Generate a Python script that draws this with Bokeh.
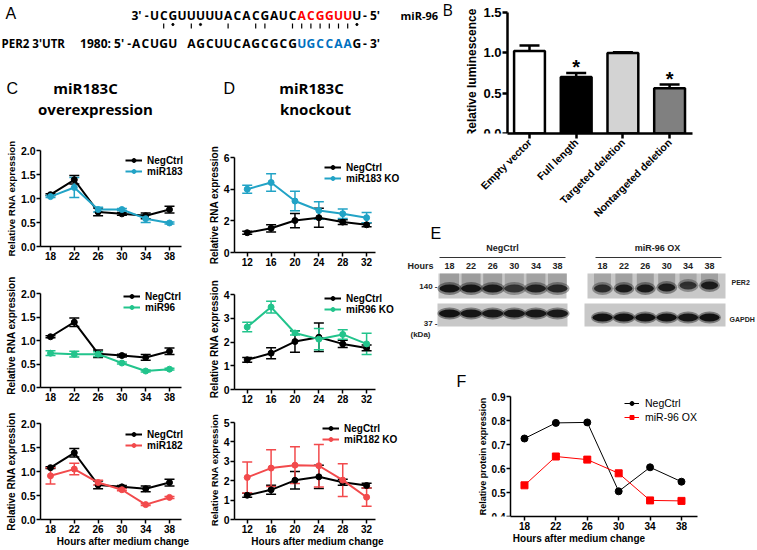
import math
from bokeh.plotting import figure
from bokeh.layouts import row, column
from bokeh.models import (Range1d, FixedTicker, NumeralTickFormatter,
                          Legend, LegendItem, Whisker, TeeHead, ColumnDataSource)
from bokeh.core.properties import value
from bokeh.embed import file_html
from bokeh.resources import INLINE

FONT = "Liberation Sans"
TFONT = "Open Sans"

# ---------------- data ----------------
# Panel A: miR-96 (3'->5') paired with PER2 3'UTR site
mirna_seq = "UCGUUUUUACACGAUCACGGUUU"
target_left = "ACUGU"
target_right = "AGCUUCAGCGCGUGCCAAG"
seed_cols = [16, 17, 18, 19, 20, 21]
pair_bar_cols = [1, 4, 8, 11, 12, 15, 16, 17, 18, 19, 20, 21]
pair_dot_cols = [2, 5, 22]

# Panel B
b_categories = ["Empty vector", "Full length", "Targeted deletion", "Nontargeted deletion"]
b_values = [1.02, 0.70, 0.995, 0.56]
b_errors = [0.07, 0.05, 0.012, 0.045]
b_colors = ["#ffffff", "#000000", "#d3d3d3", "#808080"]
b_stars = ["", "*", "", "*"]

# Panel C (overexpression)
hours_oe = [18, 22, 26, 30, 34, 38]
negctrl_oe = [1.08, 1.39, 0.72, 0.68, 0.64, 0.77]
negctrl_oe_err = [0.02, 0.09, 0.08, 0.03, 0.06, 0.07]
mir183_oe = [1.04, 1.23, 0.77, 0.77, 0.58, 0.49]
mir183_oe_err = [0.02, 0.21, 0.05, 0.02, 0.08, 0.02]
mir96_oe = [0.73, 0.71, 0.71, 0.52, 0.35, 0.39]
mir96_oe_err = [0.05, 0.06, 0.05, 0.02, 0.02, 0.02]
mir182_oe = [0.91, 1.05, 0.77, 0.62, 0.31, 0.46]
mir182_oe_err = [0.17, 0.12, 0.05, 0.02, 0.02, 0.02]

# Panel D (knockout)
hours_ko = [12, 16, 20, 24, 28, 32]
negctrl_ko = [1.25, 1.53, 2.02, 2.2, 1.92, 1.75]
negctrl_ko_err = [0.1, 0.23, 0.45, 0.6, 0.15, 0.12]
mir183_ko = [4.0, 4.42, 3.25, 2.65, 2.45, 2.2]
mir183_ko_err = [0.25, 0.55, 0.62, 0.55, 0.3, 0.32]
mir96_ko = [2.63, 3.47, 2.38, 2.12, 2.32, 1.92]
mir96_ko_err = [0.2, 0.25, 0.08, 0.45, 0.2, 0.45]
mir182_ko = [2.17, 2.65, 2.8, 2.77, 2.03, 1.15]
mir182_ko_err = [0.8, 0.95, 0.95, 1.1, 0.85, 0.47]

# Panel E (western blot band intensities, 0-1)
blot_hours = [18, 22, 26, 30, 34, 38]
per2_negctrl = [0.95, 0.95, 0.92, 0.72, 0.85, 0.82]
per2_mir96 = [0.78, 0.9, 0.92, 0.9, 0.72, 0.9]
per2_mir96_shift = [0, 0, 0, 1, 3, 3]
gapdh_negctrl = [0.95, 0.92, 0.9, 0.9, 0.9, 0.9]
gapdh_mir96 = [0.95, 0.95, 0.95, 0.95, 0.92, 0.95]

# Panel F
f_negctrl = [0.725, 0.79, 0.792, 0.505, 0.605, 0.545]
f_mir96 = [0.53, 0.65, 0.637, 0.58, 0.467, 0.465]

TEAL = "#22a3c6"
GREEN = "#22c48c"
RED = "#f24a4c"


# ---------------- helpers ----------------
def blank(w, h, xr, yr):
    p = figure(width=w, height=h, x_range=Range1d(*xr), y_range=Range1d(*yr),
               output_backend="svg", toolbar_location=None,
               x_axis_location=None, y_axis_location=None, min_border=0)
    p.grid.visible = False
    p.outline_line_color = None
    return p


def style_axes(p, tick_size="10px", ytick_size="10.5px", lw=1.5, tick_out=4,
               label_size="10px"):
    for ax in p.axis:
        ax.axis_line_width = lw
        ax.axis_line_color = "black"
        ax.major_tick_line_width = lw
        ax.major_tick_line_color = "black"
        ax.major_tick_out = tick_out
        ax.major_tick_in = 0
        ax.minor_tick_line_color = None
        ax.major_label_text_font = FONT
        ax.major_label_text_font_style = "bold"
        ax.major_label_text_color = "black"
        ax.major_label_standoff = 1
        ax.axis_label_text_font = FONT
        ax.axis_label_text_font_style = "bold"
        ax.axis_label_text_font_size = label_size
        ax.axis_label_text_color = "black"
        ax.axis_label_standoff = 1
    p.xaxis.major_label_text_font_size = tick_size
    p.yaxis.major_label_text_font_size = ytick_size
    p.grid.visible = False
    p.outline_line_color = None


def make_panel(w, h, bl, bt, bb, x0, xend, xpx, ytop, ypx, xticks, yticks, yfmt,
               ylabel="Relative RNA expression", xlabel=None, ylabel_size="10px"):
    # frame spans from border-left to the figure's right edge; axis lines limited by bounds
    frame_w = w - bl
    frame_h = h - bt - bb
    x1 = x0 + frame_w / xpx
    y1 = frame_h / ypx
    p = figure(width=w, height=h, x_range=Range1d(x0, x1), y_range=Range1d(0, y1),
               output_backend="svg", toolbar_location=None,
               min_border_left=bl, min_border_right=0, min_border_top=bt, min_border_bottom=bb)
    p.xaxis.ticker = FixedTicker(ticks=xticks)
    p.yaxis.ticker = FixedTicker(ticks=yticks)
    p.yaxis.formatter = NumeralTickFormatter(format=yfmt)
    p.xaxis.bounds = (x0, xend)
    p.yaxis.bounds = (0, ytop)
    p.yaxis.axis_label = ylabel
    if xlabel:
        p.xaxis.axis_label = xlabel
    style_axes(p)
    p.yaxis.axis_label_text_font_size = ylabel_size
    if xlabel:
        p.xaxis.axis_label_standoff = 0
    return p


def add_series(p, xs, ys, errs, color, lw=2, size=6, cap=10):
    src = ColumnDataSource(dict(x=xs, y=ys,
                                lo=[y - e for y, e in zip(ys, errs)],
                                hi=[y + e for y, e in zip(ys, errs)]))
    p.add_layout(Whisker(source=src, base="x", lower="lo", upper="hi",
                         line_color=color, line_width=1.5,
                         upper_head=TeeHead(size=cap, line_color=color, line_width=1.5),
                         lower_head=TeeHead(size=cap, line_color=color, line_width=1.5)))
    r1 = p.line("x", "y", source=src, line_color=color, line_width=lw)
    r2 = p.scatter("x", "y", source=src, marker="circle", size=size,
                   fill_color=color, line_color=color)
    return [r1, r2]


RH = 13  # approx. legend row height for ~10px text


def add_legend(p, entries, fl, fb, gx, first_center, pitch, size="10px", bold=True,
               glyph_w=17, standoff=5):
    items = [LegendItem(label=lab, renderers=rs) for lab, rs in entries]
    n = len(items)
    spacing = int(round(pitch - RH))
    H = n * RH + (n - 1) * spacing
    top = first_center - RH / 2
    leg = Legend(items=items, location=(gx - fl, fb - (top + H)), orientation="vertical",
                 padding=0, margin=0, spacing=spacing, glyph_width=glyph_w, glyph_height=10,
                 label_height=10, label_standoff=standoff, border_line_color=None,
                 background_fill_alpha=0, label_text_font=FONT,
                 label_text_font_style="bold" if bold else "normal",
                 label_text_font_size=size, label_text_color="black")
    p.add_layout(leg, "center")


# ---------------- Panel A + C/D titles (page 0..400 x 0..140) ----------------
pA = blank(400, 140, (0, 400), (140, 0))


def colx(c):
    return 154 + 9.2 * c


n1 = len(mirna_seq)
pA.text(x=[colx(i) for i in range(n1)], y=[15] * n1, text=list(mirna_seq),
        text_color=["#ff0000" if i in seed_cols else "black" for i in range(n1)],
        text_font=value(TFONT), text_font_style="bold", text_font_size="12px",
        text_align="center", text_baseline="middle")
tcols = [c - 2 for c in range(len(target_left))] + [c + 4 for c in range(len(target_right))]
tletters = list(target_left) + list(target_right)
pA.text(x=[colx(c) for c in tcols], y=[43] * len(tcols), text=tletters,
        text_color=["#0070c0" if c in seed_cols else "black" for c in tcols],
        text_font=value(TFONT), text_font_style="bold", text_font_size="12px",
        text_align="center", text_baseline="middle")
pA.segment(x0=[colx(c) for c in pair_bar_cols], y0=[23] * len(pair_bar_cols),
           x1=[colx(c) for c in pair_bar_cols], y1=[28] * len(pair_bar_cols),
           line_color="black", line_width=1.2)
pA.scatter(x=[colx(c) for c in pair_dot_cols], y=[24] * len(pair_dot_cols),
           marker="circle", size=2.2, color="black")
pA.text(x=[colx(0) - 6, colx(n1 - 1) + 6, colx(-2) - 5, colx(22) + 6],
        y=[15, 15, 43, 43],
        text=["3' -", "- 5'", "1980: 5' -", "- 3'"],
        text_align=["right", "left", "right", "left"],
        text_font=value(TFONT), text_font_style="bold", text_font_size="12px",
        text_baseline="middle", text_color="black")
pA.text(x=[1], y=[43], text=["PER2 3'UTR"], text_font=value(TFONT), text_font_style="bold",
        text_font_size="11.5px", text_baseline="middle", text_align="left")
pA.text(x=[5, 6, 223], y=[13, 88, 88], text=["A", "C", "D"], text_font=value(FONT),
        text_font_size="16px", text_baseline="middle", text_align="left")
pA.text(x=[85, 95, 311, 315], y=[87, 108, 87, 108],
        text=["miR183C", "overexpression", "miR183C", "knockout"],
        text_font=value(TFONT), text_font_style="bold", text_font_size="15px",
        text_baseline="middle", text_align="center")

# ---------------- Panel B (page 400..757 x 0..226), frame covers whole width ----------------
B_C0, B_PX = 529.0, 46.7          # page x of first bar centre, px per category step
B_Y0, B_YPX = 135.0, 82.0         # page y of value 0, px per unit
b_idx = list(range(len(b_categories)))


def bx(px):
    return (px - B_C0) / B_PX


def by(py):
    return (B_Y0 - py) / B_YPX


pB = figure(width=357, height=226, x_range=Range1d(bx(400), bx(757)),
            y_range=Range1d(0, by(0)), output_backend="svg", toolbar_location=None,
            min_border_left=0, min_border_right=0, min_border_top=0, min_border_bottom=91)
pB.vbar(x=b_idx, top=b_values, width=0.66, fill_color=b_colors,
        line_color="black", line_width=2.5)
b_src = ColumnDataSource(dict(x=b_idx, lo=b_values,
                              hi=[v + e for v, e in zip(b_values, b_errors)]))
pB.add_layout(Whisker(source=b_src, base="x", lower="lo", upper="hi", line_color="black",
                      line_width=2.5, lower_head=None,
                      upper_head=TeeHead(size=20, line_color="black", line_width=2.5)))
pB.text(x=b_idx, y=[v + e + 0.07 for v, e in zip(b_values, b_errors)], text=b_stars,
        text_font=value(FONT), text_font_style="bold", text_font_size="20px",
        text_align="center", text_baseline="middle")
pB.xaxis.ticker = FixedTicker(ticks=b_idx)
pB.xaxis.major_label_overrides = {i: c for i, c in zip(b_idx, b_categories)}
pB.xaxis.bounds = (bx(507), bx(692))
pB.yaxis.ticker = FixedTicker(ticks=[0, 0.5, 1.0, 1.5])
pB.yaxis.formatter = NumeralTickFormatter(format="0.0")
pB.yaxis.bounds = (0, 1.5)
pB.yaxis.fixed_location = bx(507)
pB.yaxis.axis_label = "Relative luminescence"
style_axes(pB, tick_size="10.5px", ytick_size="13px", lw=2.5, tick_out=5, label_size="12px")
pB.xaxis.major_label_orientation = math.pi / 4
pB.xaxis.major_label_standoff = 2
pB.text(x=[bx(400), bx(442)], y=[by(15), by(10)], text=["miR-96", "B"],
        text_font=value(TFONT), text_font_style=["bold", "normal"],
        text_font_size=["11px", "16px"], text_baseline="middle", text_align="left")

# ---------------- Panel C (page 0..205) ----------------
C1 = make_panel(205, 130, 40, 10, 24, 16.32, 40.02, 5.95, 2, 48, hours_oe,
                [0, 0.5, 1, 1.5, 2], "0.0", ylabel_size="9.8px")
rn = add_series(C1, hours_oe, negctrl_oe, negctrl_oe_err, "black")
rm = add_series(C1, hours_oe, mir183_oe, mir183_oe_err, TEAL)
add_legend(C1, [("NegCtrl", rn), ("miR183", rm)], 40, 246, 125, 160, 10)

C2 = make_panel(205, 140, 40, 13, 23, 16.32, 40.02, 5.95, 2, 47, hours_oe,
                [0, 0.5, 1, 1.5, 2], "0.0")
rn = add_series(C2, hours_oe, negctrl_oe, negctrl_oe_err, "black")
rm = add_series(C2, hours_oe, mir96_oe, mir96_oe_err, GREEN)
add_legend(C2, [("NegCtrl", rn), ("miR96", rm)], 40, 387, 123, 295, 11)

C3 = make_panel(205, 140, 40, 13, 31, 16.32, 40.02, 5.95, 2, 48, hours_oe,
                [0, 0.5, 1, 1.5, 2], "0.0", xlabel="Hours after medium change")
rn = add_series(C3, hours_oe, negctrl_oe, negctrl_oe_err, "black")
rm = add_series(C3, hours_oe, mir182_oe, mir182_oe_err, RED)
add_legend(C3, [("NegCtrl", rn), ("miR182", rm)], 40, 519, 125, 433, 11)

# ---------------- Panel D (page 205..400) ----------------
D1 = make_panel(195, 130, 29, 17, 18, 9.87, 33.5, 5.97, 6, 15.83, hours_ko,
                [0, 2, 4, 6], "0")
rn = add_series(D1, hours_ko, negctrl_ko, negctrl_ko_err, "black")
rm = add_series(D1, hours_ko, mir183_ko, mir183_ko_err, TEAL)
add_legend(D1, [("NegCtrl", rn), ("miR183 KO", rm)], 234, 252, 324, 167, 10)

D2 = make_panel(195, 140, 29, 18, 21, 9.87, 33.5, 5.97, 4, 23.75, hours_ko,
                [0, 1, 2, 3, 4], "0")
rn = add_series(D2, hours_ko, negctrl_ko, negctrl_ko_err, "black")
rm = add_series(D2, hours_ko, mir96_ko, mir96_ko_err, GREEN)
add_legend(D2, [("NegCtrl", rn), ("miR96 KO", rm)], 234, 389, 324, 298, 10)

D3 = make_panel(195, 140, 29, 10, 31, 9.87, 33.5, 5.97, 5, 19.4, hours_ko,
                [0, 1, 2, 3, 4, 5], "0", xlabel="Hours after medium change",
                ylabel_size="9.5px")
rn = add_series(D3, hours_ko, negctrl_ko, negctrl_ko_err, "black")
rm = add_series(D3, hours_ko, mir182_ko, mir182_ko_err, RED)
add_legend(D3, [("NegCtrl", rn), ("miR182 KO", rm)], 234, 519, 322, 427, 11)

# ---------------- Panel E (blot), page 400..757 x 226..391 ----------------
pE = blank(357, 165, (400, 757), (391, 226))
lanes = list(range(len(blot_hours)))
neg_x = [449 + 21.6 * i for i in lanes]
ox_x = [602 + 21.4 * i for i in lanes]
pE.quad(left=[neg_x[0] - 11, ox_x[0] - 15, neg_x[0] - 12, ox_x[0] - 18],
        right=[neg_x[-1] + 9, ox_x[-1] + 16, neg_x[-1] + 10, ox_x[-1] + 16],
        top=[273, 273, 303, 303], bottom=[298, 298, 326, 326],
        fill_color="#c8c8c8", line_color=None)
pE.rect(x=neg_x + ox_x, y=[279] * 12, width=[19] * 6 + [17] * 6, height=12,
        fill_color="#6e6e6e", fill_alpha=[0.5 * v for v in per2_negctrl + per2_mir96],
        line_color=None)
per2_y = [288] * 6 + [288 - s for s in per2_mir96_shift]
pE.ellipse(x=neg_x + ox_x, y=per2_y, width=[24] * 6 + [21] * 6, height=13,
           fill_color="#222222", fill_alpha=[0.5 * v for v in per2_negctrl + per2_mir96],
           line_color=None)
pE.ellipse(x=neg_x + ox_x, y=per2_y, width=[20] * 6 + [17] * 6, height=8,
           fill_color="#111111", fill_alpha=per2_negctrl + per2_mir96, line_color=None)
gap_y = [313] * 6 + [317] * 6
pE.ellipse(x=neg_x + ox_x, y=gap_y, width=[24] * 6 + [23] * 6, height=12,
           fill_color="#222222", fill_alpha=[0.5 * v for v in gapdh_negctrl + gapdh_mir96],
           line_color=None)
pE.ellipse(x=neg_x + ox_x, y=gap_y, width=[21] * 6 + [20] * 6, height=8,
           fill_color="#0d0d0d", fill_alpha=gapdh_negctrl + gapdh_mir96, line_color=None)
pE.segment(x0=[neg_x[0] - 10, ox_x[0] - 7], x1=[neg_x[-1] + 8, ox_x[-1] + 12],
           y0=[257, 257], y1=[257, 257], line_color="#333333", line_width=1)
pE.text(x=neg_x + ox_x, y=[265] * 12, text=[str(h) for h in blot_hours + blot_hours],
        text_font=value(FONT), text_font_style="bold", text_font_size="9px",
        text_align="center", text_baseline="middle", text_color="#222222")
pE.text(x=[502, 657, 420], y=[247, 247, 265], text=["NegCtrl", "miR-96 OX", "Hours"],
        text_font=value(FONT), text_font_style="bold", text_font_size="9px",
        text_align="center", text_baseline="middle", text_color="#222222")
pE.text(x=[437, 437, 420], y=[286, 323, 334], text=["140 -", "37 -", "(kDa)"],
        text_align=["right", "right", "center"],
        text_font=value(FONT), text_font_style="bold", text_font_size="8px",
        text_baseline="middle", text_color="#222222")
pE.text(x=[731, 729], y=[282, 319], text=["PER2", "GAPDH"],
        text_font=value(FONT), text_font_style="bold", text_font_size="7px",
        text_align="left", text_baseline="middle", text_color="#222222")
pE.text(x=[430, 456], y=[233, 381], text=["E", "F"], text_font=value(FONT),
        text_font_size="16px", text_align="left", text_baseline="middle")

# ---------------- Panel F, page 400..757 x 391..550, frame covers whole figure width ----------------
F_X0, F_XEND, F_XPX = 16.22, 40.04, 7.85   # x value at page 510, x-axis end, px per hour
F_LEFT = 110                               # offset of the y axis inside the figure
F_YPX = 240.0                              # px per unit on the y axis
F_TOPPAD = 5                               # px above the 0.9 tick inside the frame
pF = figure(width=357, height=159,
            x_range=Range1d(F_X0 - F_LEFT / F_XPX, F_X0 + (357 - F_LEFT) / F_XPX),
            y_range=Range1d(0.4, 0.9 + F_TOPPAD / F_YPX),
            output_backend="svg", toolbar_location=None,
            min_border_left=0, min_border_right=0, min_border_top=0, min_border_bottom=34)
pF.xaxis.ticker = FixedTicker(ticks=hours_oe)
pF.xaxis.bounds = (F_X0, F_XEND)
pF.yaxis.ticker = FixedTicker(ticks=[0.4, 0.5, 0.6, 0.7, 0.8, 0.9])
pF.yaxis.formatter = NumeralTickFormatter(format="0.0")
pF.yaxis.bounds = (0.4, 0.9)
pF.yaxis.fixed_location = F_X0
pF.yaxis.axis_label = "Relative protein expression"
pF.xaxis.axis_label = "Hours after medium change"
style_axes(pF, tick_size="10px", ytick_size="10px")
pF.yaxis.axis_label_text_font_size = "9px"
pF.xaxis.axis_label_standoff = 0
f1 = pF.line(hours_oe, f_negctrl, line_color="black", line_width=1)
f2 = pF.scatter(hours_oe, f_negctrl, marker="circle", size=7, color="black")
f3 = pF.line(hours_oe, f_mir96, line_color="#ff0000", line_width=1)
f4 = pF.scatter(hours_oe, f_mir96, marker="square", size=7, color="#ff0000")
add_legend(pF, [("NegCtrl", [f1, f2]), ("miR-96 OX", [f3, f4])], 400, 516, 624, 401, 15,
           size="10.5px", bold=False, glyph_w=15, standoff=6)

# ---------------- layout ----------------
left = column(pA, row(column(C1, C2, C3), column(D1, D2, D3)))
right = column(pB, pE, pF)
layout = row(left, right)

with open("out.html", "w") as f:
    f.write(file_html(layout, INLINE))
